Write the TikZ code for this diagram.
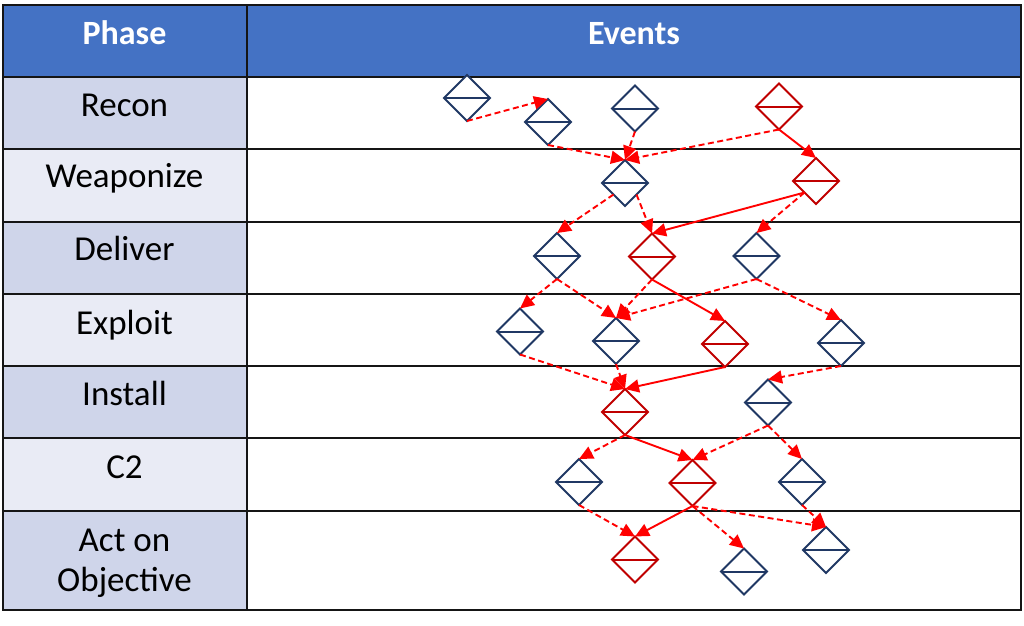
\documentclass[tikz,border=0pt]{standalone}
\usepackage{fontspec}
\setmainfont{Carlito}
\usetikzlibrary{shapes.geometric,arrows.meta,calc}
\definecolor{hdr}{HTML}{4472C4}
\definecolor{rowA}{HTML}{CFD5EA}
\definecolor{rowB}{HTML}{E9EBF5}
\definecolor{navy}{HTML}{203864}
\definecolor{dred}{HTML}{C00000}
\definecolor{arr}{HTML}{FF0000}
\definecolor{tbl}{HTML}{151515}
\tikzset{
  ev/.style={diamond, draw=#1, fill=white, line width=2pt, minimum width=46pt,
    minimum height=46pt, inner sep=0pt, outer sep=0pt,
    append after command={(\tikzlastnode.west) edge[draw=#1, line width=2pt, -] (\tikzlastnode.east)}},
  ev/.default=navy,
  lnk/.style={draw=arr, line width=1.9pt, -{Triangle[length=14pt,width=13pt]}},
  dlnk/.style={lnk, dash pattern=on 6pt off 3.5pt},
  grid/.style={draw=tbl, line width=2pt},
  ph/.style={anchor=base, font=\fontsize{35}{42}\selectfont},
  hd/.style={anchor=base, text=white, font=\fontsize{34}{40}\selectfont\bfseries}
}
\begin{document}
\begin{tikzpicture}[x=1pt,y=-1pt]
\useasboundingbox (0,0) rectangle (1024,625);
% table fills
\fill[hdr] (2.5,4.5) rectangle (1021,77);
\fill[rowA] (2.5,77) rectangle (247,149);
\fill[rowB] (2.5,149) rectangle (247,221.5);
\fill[rowA] (2.5,221.5) rectangle (247,294);
\fill[rowB] (2.5,294) rectangle (247,366);
\fill[rowA] (2.5,366) rectangle (247,438);
\fill[rowB] (2.5,438) rectangle (247,511);
\fill[rowA] (2.5,511) rectangle (247,609.5);
% grid
\draw[grid] (2.5,4.5) rectangle (1021,609.5);
\foreach \yy in {77,149,221.5,294,366,438,511} \draw[grid] (2.5,\yy) -- (1021,\yy);
\draw[grid] (247,4.5) -- (247,609.5);
% header texts
\node[hd] (hphase) at (124.5,44.5) {Phase};
\node[hd] (hevents) at (634,44) {Events};
% phase texts
\node[ph] (p1) at (124.5,116.5) {Recon};
\node[ph] (p2) at (124.5,187) {Weaponize};
\node[ph] (p3) at (124.5,260.5) {Deliver};
\node[ph] (p4) at (124.5,334) {Exploit};
\node[ph] (p5) at (124.5,405) {Install};
\node[ph] (p6) at (124.5,478) {C2};
\node[ph] (p7a) at (124.5,551.7) {Act on};
\node[ph] (p7b) at (124.5,591.7) {Objective};
% event diamonds
\node[ev] (D1) at (467,98) {};
\node[ev] (D2) at (548,122) {};
\node[ev] (D3) at (635,108.5) {};
\node[ev=dred] (D4) at (779,106.5) {};
\node[ev] (W1) at (625,183) {};
\node[ev=dred] (W2) at (816,181) {};
\node[ev] (E1) at (557,256) {};
\node[ev=dred] (E2) at (652,256.5) {};
\node[ev] (E3) at (756.5,256) {};
\node[ev] (X1) at (520,331.5) {};
\node[ev] (X2) at (616,341) {};
\node[ev=dred] (X3) at (725,344) {};
\node[ev] (X4) at (841,343) {};
\node[ev=dred] (I1) at (625,412) {};
\node[ev] (I2) at (768,402.5) {};
\node[ev] (C1) at (579,482) {};
\node[ev=dred] (C2) at (692.5,483) {};
\node[ev] (C3) at (802,482) {};
\node[ev=dred] (A1) at (635,559.5) {};
\node[ev] (A2) at (744,571.5) {};
\node[ev] (A3) at (826,550) {};
% connectors
\draw[dlnk] (D1.south) -- (D2.north);
\draw[dlnk] (D2.south) -- (W1.north);
\draw[dlnk] (D3.south) -- (W1.north);
\draw[dlnk] (D4.south) -- (W1.north);
\draw[lnk] (D4.south) -- (W2.north);
\draw[dlnk] ($(W1.south)!0.5!(W1.west)$) -- (E1.north);
\draw[dlnk] ($(W1.south)!0.5!(W1.east)$) -- (E2.north);
\draw[lnk] ($(W2.south)!0.5!(W2.west)$) -- (E2.north);
\draw[dlnk] ($(W2.south)!0.5!(W2.west)$) -- (E3.north);
\draw[dlnk] (E1.south) -- (X1.north);
\draw[dlnk] (E1.south) -- (X2.north);
\draw[dlnk] (E2.south) -- (X2.north);
\draw[lnk] (E2.south) -- (X3.north);
\draw[dlnk] (E3.south) -- (X2.north);
\draw[dlnk] (E3.south) -- (X4.north);
\draw[dlnk] (X1.south) -- (I1.north);
\draw[dlnk] (X2.south) -- (I1.north);
\draw[lnk] (X3.south) -- (I1.north);
\draw[dlnk] (X4.south) -- (I2.north);
\draw[dlnk] (I1.south) -- (C1.north);
\draw[lnk] (I1.south) -- (C2.north);
\draw[dlnk] (I2.south) -- (C2.north);
\draw[dlnk] (I2.south) -- (C3.north);
\draw[dlnk] (C1.south) -- (A1.north);
\draw[lnk] (C2.south) -- (A1.north);
\draw[dlnk] (C2.south) -- (A2.north);
\draw[dlnk] (C2.south) -- (A3.north);
\draw[dlnk] (C3.south) -- (A3.north);
\end{tikzpicture}
\end{document}
